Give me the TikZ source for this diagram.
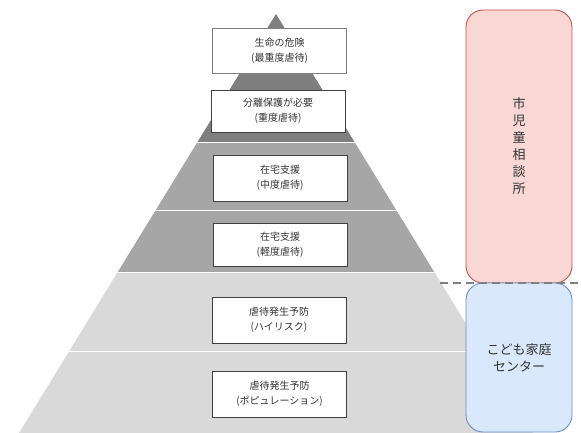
\documentclass[tikz,border=0pt]{standalone}
\usepackage{fontspec}
\newfontfamily\jp{Noto Sans CJK JP}
\definecolor{bdark}{HTML}{7F7F7F}
\definecolor{bmid}{HTML}{A6A6A6}
\definecolor{blight}{HTML}{D9D9D9}
\definecolor{txt}{HTML}{333333}
\definecolor{boxline}{HTML}{404040}
\definecolor{pinkfill}{HTML}{F8D7D5}
\definecolor{pinkline}{HTML}{B85450}
\definecolor{bluefill}{HTML}{DAE8FC}
\definecolor{blueline}{HTML}{6C8EBF}
\tikzset{
  level/.style={draw=boxline, fill=white, line width=0.9pt, minimum width=134pt,
    align=center, inner sep=0pt, text=txt, font=\jp\fontsize{10}{15}\selectfont},
  org/.style={rounded corners=17pt, line width=0.9pt, minimum width=106pt,
    align=center, inner sep=0pt, text=txt, font=\jp\fontsize{13}{17}\selectfont},
  sep/.style={white, line width=1.6pt},
  divider/.style={draw=bdark, line width=2pt, dash pattern=on 8pt off 5pt}
}
\begin{document}
\begin{tikzpicture}[x=1pt,y=-1pt]
\useasboundingbox (0,0) rectangle (581,433);
% pyramid bands
\begin{scope}
  \clip (276,14) -- (19,433) -- (533,433) -- cycle;
  \fill[bdark] (0,0) rectangle (581,142.5);
  \fill[bmid] (0,142.5) rectangle (581,272.5);
  \fill[blight] (0,272.5) rectangle (581,433);
  \draw[sep] (0,142.5) -- (581,142.5);
  \draw[sep] (0,210.5) -- (581,210.5);
  \draw[sep] (0,272.5) -- (581,272.5);
  \draw[sep] (0,351.5) -- (581,351.5);
\end{scope}
% level boxes
\node[level, draw=gray, minimum height=45pt] (l1) at (279.5,50.5) {生命の危険\\(最重度虐待)};
\node[level, minimum height=42pt] (l2) at (278,111) {分離保護が必要\\(重度虐待)};
\node[level, minimum height=46pt] (l3) at (280,178) {在宅支援\\(中度虐待)};
\node[level, minimum height=43pt] (l4) at (280,244.5) {在宅支援\\(軽度虐待)};
\node[level, minimum height=46pt] (l5) at (279,320) {虐待発生予防\\(ハイリスク)};
\node[level, minimum height=46pt] (l6) at (279.5,394) {虐待発生予防\\(ポピュレーション)};
% organisations
\node[org, draw=pinkline, fill=pinkfill, minimum height=273pt] (city) at (519,146.5)
  {市\\児\\童\\相\\談\\所};
\node[org, draw=blueline, fill=bluefill, minimum height=149pt] (center) at (519,357.5)
  {こども家庭\\センター};
% dashed divider
\coordinate (d1) at (440,283);
\coordinate (d2) at (581,283);
\draw[divider] (d1) -- (d2);
\end{tikzpicture}
\end{document}
